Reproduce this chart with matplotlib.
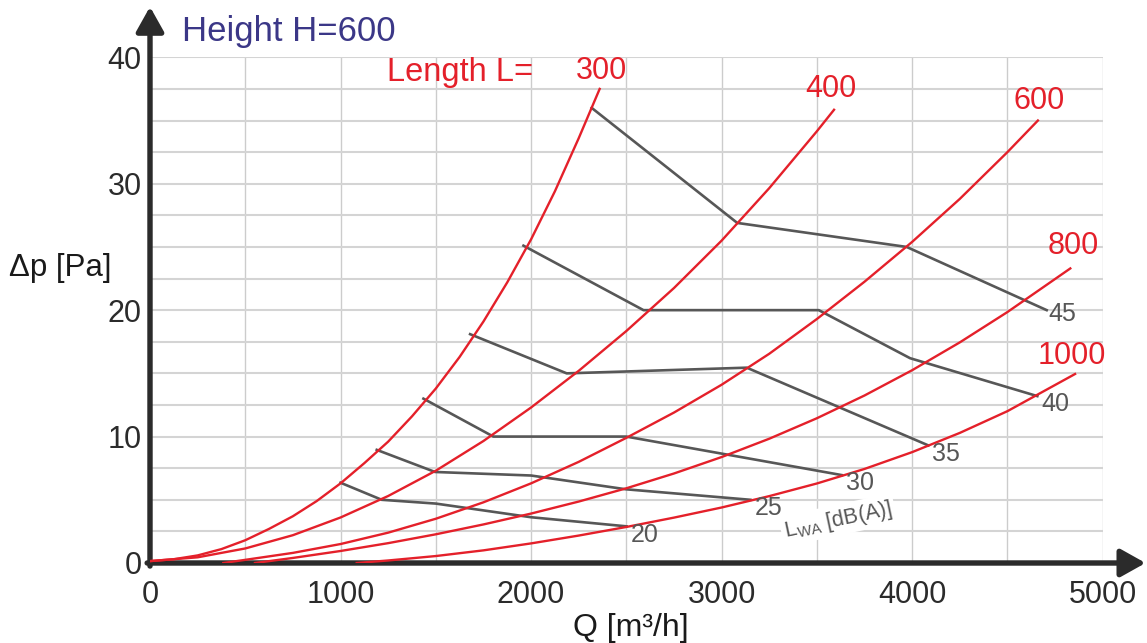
import numpy as np
import matplotlib.pyplot as plt
from matplotlib.ticker import MultipleLocator

plt.rcParams['font.family'] = ['Liberation Sans', 'DejaVu Sans']
plt.rcParams['mathtext.fontset'] = 'custom'
plt.rcParams['mathtext.rm'] = 'Liberation Sans'

# pressure drop curves, one per length L  (Q in m3/h, dp in Pa)
lengths = ['300', '400', '600', '800', '1000']
q_300 = [0, 125, 250, 375, 500, 625, 750, 875, 1000, 1125, 1250, 1375, 1500, 1625, 1750,
         1875, 2000, 2125, 2250, 2360]
dp_300 = [0.15, 0.3, 0.6, 1.1, 1.8, 2.7, 3.7, 4.9, 6.3, 7.9, 9.6, 11.6, 13.8, 16.3, 19.1,
          22.2, 25.6, 29.4, 33.6, 37.5]
q_400 = [0, 250, 500, 750, 1000, 1250, 1500, 1750, 2000, 2250, 2500, 2750, 3000, 3250, 3500, 3590]
dp_400 = [0.15, 0.45, 1.15, 2.2, 3.6, 5.3, 7.3, 9.65, 12.3, 15.2, 18.35, 21.75, 25.5, 29.65, 34.15, 35.85]
q_600 = [385, 500, 750, 1000, 1250, 1500, 1750, 2000, 2250, 2500, 2750, 3000, 3250, 3500, 3750,
         4000, 4250, 4500, 4660]
dp_600 = [0, 0.25, 0.8, 1.5, 2.4, 3.5, 4.8, 6.3, 8.0, 9.9, 11.9, 14.1, 16.55, 19.3, 22.25,
          25.4, 28.8, 32.5, 35.0]
q_800 = [551, 750, 1000, 1250, 1500, 1750, 2000, 2250, 2500, 2750, 3000, 3250, 3500, 3750, 4000,
         4250, 4500, 4830]
dp_800 = [0, 0.4, 0.95, 1.57, 2.27, 3.05, 3.91, 4.86, 5.91, 7.08, 8.38, 9.83, 11.45, 13.25, 15.25,
          17.45, 19.85, 23.3]
q_1000 = [1085, 1250, 1500, 1750, 2000, 2250, 2500, 2750, 3000, 3250, 3500, 3750, 4000, 4250, 4500, 4855]
dp_1000 = [0, 0.2, 0.55, 1.0, 1.55, 2.17, 2.85, 3.59, 4.39, 5.29, 6.29, 7.44, 8.77, 10.29, 12.01, 14.95]

# sound power level lines LWA [dB(A)]
lwa_levels = ['20', '25', '30', '35', '40', '45']
q_lwa20 = [1000, 1216, 1500, 2000, 2501]
dp_lwa20 = [6.35, 5.0, 4.7, 3.62, 2.9]
q_lwa25 = [1190, 1496, 2000, 2498, 3151]
dp_lwa25 = [8.95, 7.2, 6.92, 5.83, 5.0]
q_lwa30 = [1435, 1802, 2500, 3632]
dp_lwa30 = [13.0, 10.0, 10.0, 6.95]
q_lwa35 = [1680, 2187, 3132, 4085]
dp_lwa35 = [18.1, 15.0, 15.45, 9.3]
q_lwa40 = [1960, 2590, 3510, 3989, 4657]
dp_lwa40 = [25.1, 20.0, 20.0, 16.2, 13.2]
q_lwa45 = [2318, 3082, 3971, 4706]
dp_lwa45 = [36.0, 26.9, 25.0, 20.0]

x_ticks = [0, 1000, 2000, 3000, 4000, 5000]
y_ticks = [0, 10, 20, 30, 40]

red = '#e4202a'
grey = '#575757'
dark = '#2b2b2b'

curves = [(q_300, dp_300), (q_400, dp_400), (q_600, dp_600), (q_800, dp_800), (q_1000, dp_1000)]
lwa_lines = [(q_lwa20, dp_lwa20), (q_lwa25, dp_lwa25), (q_lwa30, dp_lwa30),
             (q_lwa35, dp_lwa35), (q_lwa40, dp_lwa40), (q_lwa45, dp_lwa45)]

# label offsets (points) from the end of each curve
red_offsets = [(1, 12.7), (-2.5, 15.3), (0.6, 13.9), (2.3, 16.4), (-2.2, 13)]

fig = plt.figure(figsize=(11.47, 6.43), dpi=100)
ax = fig.add_axes([150 / 1147, 80 / 643, 952.7 / 1147, 505.7 / 643])
ax.set_xlim(0, 5000)
ax.set_ylim(0, 40)

# grid
ax.xaxis.set_minor_locator(MultipleLocator(500))
ax.yaxis.set_minor_locator(MultipleLocator(2.5))
ax.set_xticks(x_ticks)
ax.set_yticks(y_ticks)
ax.xaxis.grid(True, which='both', color='#cccccc', lw=1.0)
ax.yaxis.grid(True, which='both', color='#d4d4d4', lw=1.5)
ax.set_axisbelow(True)
for s in ax.spines.values():
    s.set_visible(False)
ax.tick_params(which='both', length=0, labelsize=22, labelcolor=dark)
ax.tick_params(axis='x', pad=12)
ax.tick_params(axis='y', pad=6)

# sound lines (grey) with their labels
for (q, dp), lab in zip(lwa_lines, lwa_levels):
    ax.plot(q, dp, color=grey, lw=1.9, zorder=3)
    off = (11, -3) if lab == '45' else (13, -6)
    ax.annotate(lab, xy=(q[-1], dp[-1]), xytext=off, textcoords='offset points',
                ha='center', va='center', fontsize=18, color=grey, zorder=5)

# pressure curves (red)
for (q, dp), lab, off in zip(curves, lengths, red_offsets):
    ax.plot(q, dp, color=red, lw=1.7, zorder=4)
    ax.annotate(lab, xy=(q[-1], dp[-1]), xytext=off, textcoords='offset points',
                ha='center', va='center', fontsize=22, color=red, zorder=5)

# axis arrows
arrow = dict(arrowstyle='-|>,head_length=0.75,head_width=0.42', lw=3.9, color=dark,
             mutation_scale=20, shrinkA=0, shrinkB=0)
ax.annotate('', xy=(0, 1.1), xytext=(0, -0.006), xycoords='axes fraction',
            arrowprops=arrow, annotation_clip=False)
ax.annotate('', xy=(1.045, 0), xytext=(-0.003, 0), xycoords='axes fraction',
            arrowprops=arrow, annotation_clip=False)

# texts
fig.text(182 / 1147, 1 - 31.6 / 643, 'Height H=600', fontsize=25, color='#3b3787',
         ha='left', va='center')
fig.text(387 / 1147, 1 - 72.5 / 643, 'Length L=', fontsize=23.5, color=red,
         ha='left', va='center')
fig.text(631 / 1147, 1 - 628 / 643, 'Q [m³/h]', fontsize=23, color='#1a1a1a',
         ha='center', va='center')
fig.text(60 / 1147, 1 - 268 / 643, 'Δp [Pa]', fontsize=22.5, color='#1a1a1a',
         ha='center', va='center')
fig.text(838 / 1147, 1 - 520 / 643, r'L$_{\mathrm{WA}}$ [dB(A)]', fontsize=15.5, color=grey,
         ha='center', va='center', rotation=12,
         bbox=dict(facecolor='white', edgecolor='none', pad=2))

plt.savefig('out.png', dpi=100)
